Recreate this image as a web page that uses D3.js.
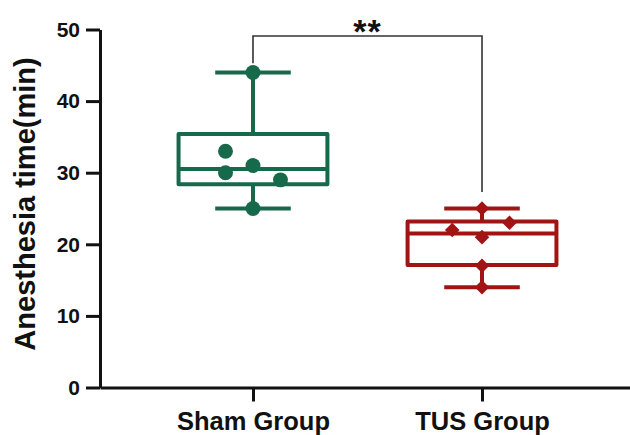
<!DOCTYPE html>
<html>
<head>
<meta charset="utf-8">
<script src="https://cdn.jsdelivr.net/npm/d3@7"></script>
<style>
    body { margin: 0; background: #fff; }
    svg { display: block; }
    .axis text { font-family: "Liberation Sans", Arial, sans-serif; font-weight: bold; fill: #111; }
    .axis path, .axis line { stroke: #111; stroke-width: 3; }
</style>
</head>
<body>
<svg id="chart" width="630" height="435"></svg>
<script>
// groups and raw points
const groups = ['Sham Group', 'TUS Group']
const shamValues = [44, 33, 30, 31, 29, 25]
const shamJitter = [0, -0.12, -0.12, 0, 0.12, 0]
const tusValues = [25, 23, 22, 21, 17, 14]
const tusJitter = [0, 0.12, -0.13, 0, 0, 0]
// box summary (min, quartiles, max)
const boxMin = [25, 14]
const boxQ1 = [28.4, 17.1]
const boxQ3 = [35.4, 23.2]
const boxMax = [44, 25]
const yTicks = [0, 10, 20, 30, 40, 50]
const colors = ['#17694b', '#a01414']

let svg = d3.select('#chart')

let xScale = d3.scalePoint()
    .domain(groups)
    .range([100, 635])
    .padding(0.668)
let step = xScale.step()
let yScale = d3.scaleLinear()
    .domain([0, 50])
    .range([387.5, 29.5])

//axes
let xAxis = d3.axisBottom(xScale).tickSize(14).tickSizeOuter(0).tickPadding(10)
let yAxis = d3.axisLeft(yScale).tickValues(yTicks).tickSize(14).tickSizeOuter(0).tickPadding(6)

svg.append('g')
    .attr('class', 'axis')
    .attr('transform', `translate(0, ${yScale(0)})`)
    .call(xAxis)
    .call(g => g.selectAll('text').style('font-size', '25.5px'))
svg.append('g')
    .attr('class', 'axis')
    .attr('transform', `translate(${100}, 0)`)
    .call(yAxis)
    .call(g => g.selectAll('text').style('font-size', '21px'))

svg.append('text')
    .attr('transform', `translate(${35}, ${204}) rotate(-90)`)
    .attr('text-anchor', 'middle')
    .style('font-family', '"Liberation Sans", Arial, sans-serif')
    .style('font-weight', 'bold')
    .style('font-size', '29px')
    .style('fill', '#111')
    .text('Anesthesia time(min)')

//boxes
let allValues = [shamValues, tusValues]
let allJitter = [shamJitter, tusJitter]

groups.forEach(function (g, i) {
    let cx = xScale(g)
    let boxW = step * 0.65
    let capW = step * 0.33
    let box = svg.append('g')
        .style('stroke', colors[i])
        .style('stroke-width', 4)
        .style('fill', 'none')
        .style('stroke-linejoin', 'round')
    // whiskers
    box.append('line')
        .attr('x1', cx).attr('x2', cx)
        .attr('y1', yScale(boxMax[i])).attr('y2', yScale(boxQ3[i]))
    box.append('line')
        .attr('x1', cx).attr('x2', cx)
        .attr('y1', yScale(boxQ1[i])).attr('y2', yScale(boxMin[i]))
    box.append('line')
        .attr('x1', cx - capW / 2).attr('x2', cx + capW / 2)
        .attr('y1', yScale(boxMax[i])).attr('y2', yScale(boxMax[i]))
    box.append('line')
        .attr('x1', cx - capW / 2).attr('x2', cx + capW / 2)
        .attr('y1', yScale(boxMin[i])).attr('y2', yScale(boxMin[i]))
    box.append('rect')
        .attr('x', cx - boxW / 2)
        .attr('y', yScale(boxQ3[i]))
        .attr('width', boxW)
        .attr('height', yScale(boxQ1[i]) - yScale(boxQ3[i]))
    let med = d3.median(allValues[i])
    box.append('line')
        .attr('x1', cx - boxW / 2).attr('x2', cx + boxW / 2)
        .attr('y1', yScale(med)).attr('y2', yScale(med))

    // points
    let symbol = i == 0 ? d3.symbol(d3.symbolCircle, 175) : d3.symbol(d3.symbolDiamond2, 135)
    svg.selectAll('.pt' + i)
        .data(allValues[i])
        .enter()
        .append('path')
        .attr('class', 'pt' + i)
        .attr('d', symbol)
        .attr('transform', function (d, j) {
            return `translate(${cx + allJitter[i][j] * step}, ${yScale(d)})`})
        .style('fill', colors[i])
})

//significance bracket
let bx1 = xScale(groups[0])
let bx2 = xScale(groups[1])
let by = yScale(50) + 6.5
svg.append('path')
    .attr('d', `M${bx1},${yScale(45.3)} V${by} H${bx2} V${yScale(27.3)}`)
    .style('fill', 'none')
    .style('stroke', '#333')
    .style('stroke-width', 1.6)
svg.append('text')
    .attr('x', (bx1 + bx2) / 2)
    .attr('y', by + 7)
    .attr('text-anchor', 'middle')
    .style('font-family', '"Liberation Sans", Arial, sans-serif')
    .style('font-weight', 'bold')
    .style('font-size', '34px')
    .style('letter-spacing', '1px')
    .style('fill', '#111')
    .text('**')
</script>
</body>
</html>
